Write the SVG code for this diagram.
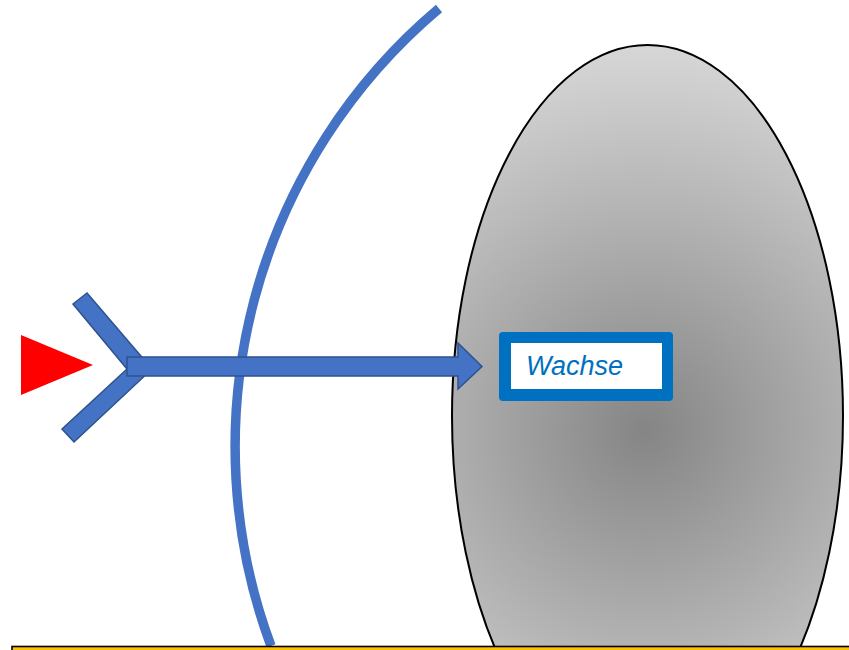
<svg xmlns="http://www.w3.org/2000/svg" width="849" height="650" viewBox="0 0 849 650">
  <style>
    .blue-shape { fill: #4472c4; stroke: #2f528f; stroke-width: 1.5; stroke-linejoin: miter; }
    .label-text { font-family: "Liberation Sans", Arial, sans-serif; font-style: italic; font-size: 27px; fill: #0070c0; }
  </style>
  <defs>
    <radialGradient id="bodyShade" gradientUnits="userSpaceOnUse" cx="645" cy="430" r="400">
      <stop offset="0" stop-color="#858585"/>
      <stop offset="1" stop-color="#dadada"/>
    </radialGradient>
  </defs>

  <rect width="849" height="650" fill="#ffffff"/>

  <!-- large oval body, cut off by the ground line -->
  <g id="body">
    <ellipse cx="647.5" cy="416" rx="195.5" ry="371" fill="url(#bodyShade)" stroke="#000000" stroke-width="2"/>
  </g>

  <!-- curved boundary line -->
  <g id="boundary">
    <path d="M439,8.5 A572.5,572.5 0 0,0 271,646" fill="none" stroke="#4472c4" stroke-width="9.5"/>
  </g>

  <!-- source marker -->
  <g id="source">
    <polygon points="21,335 93,365 21,395" fill="#ff0000"/>
  </g>

  <g id="connectors">
    <!-- fork at the tail -->
    <polygon class="blue-shape" points="87,293 152,369 74,442 62,429 127,369 73,304"/>
    <!-- shaft with head -->
    <polygon class="blue-shape" points="127,357 458,357 458,343 482,366.5 458,389 458,376 127,376"/>
  </g>

  <!-- label box -->
  <g id="wachse">
    <rect x="499" y="332" width="174" height="69" rx="4" fill="#0070c0"/>
    <rect x="511" y="343" width="151" height="46" fill="#ffffff"/>
    <text class="label-text" x="526" y="375">Wachse</text>
  </g>

  <!-- ground line -->
  <g id="ground">
    <rect x="12" y="646.5" width="850" height="10" fill="#ffc000" stroke="#000000" stroke-width="1.6"/>
  </g>
</svg>
